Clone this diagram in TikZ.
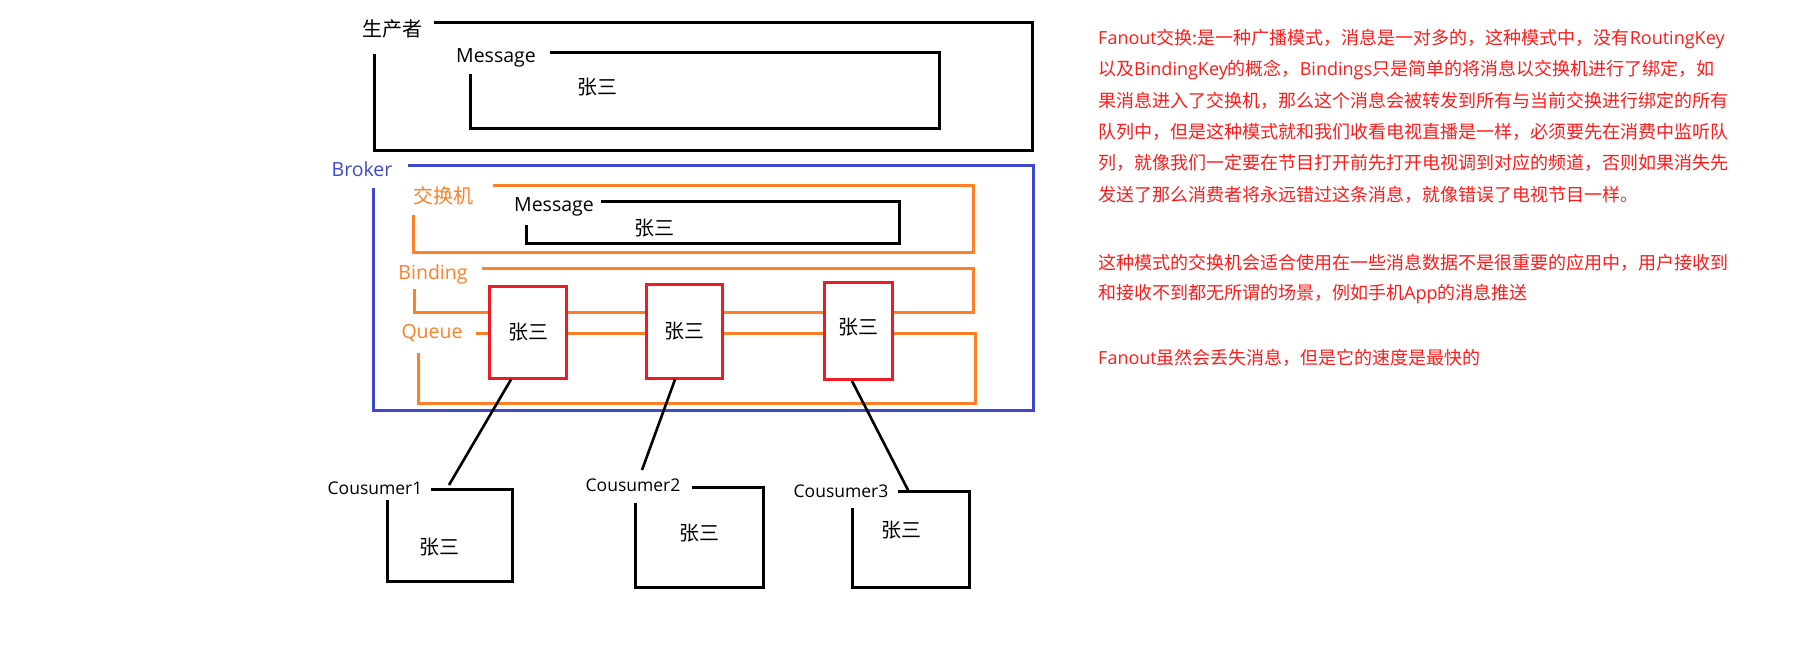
\documentclass[tikz,border=0pt]{standalone}
\usepackage{fontspec}
\setmainfont{Open Sans}
\newfontfamily\zh{Noto Sans CJK SC}
\usetikzlibrary{positioning}
\definecolor{brkdraw}{HTML}{3F48CC}
\definecolor{exdraw}{HTML}{FF7F27}
\definecolor{qdraw}{HTML}{ED1C24}
\definecolor{notetext}{HTML}{FF1A1A}
\newcommand\lat[1]{{\rmfamily #1}}
\tikzset{
  frame/.style={line width=3pt, draw=black},
  brk/.style={line width=3pt, draw=brkdraw},
  orng/.style={line width=3pt, draw=exdraw},
  qbox/.style={rectangle, draw=qdraw, line width=3pt, fill=white, inner sep=0pt, font=\zh\fontsize{20}{24}\selectfont},
  lab/.style={font=\fontsize{19.5}{23}\selectfont, inner sep=0pt},
  zhlab/.style={font=\zh\fontsize{20}{24}\selectfont, inner sep=0pt},
  clab/.style={font=\fontsize{17.5}{21}\selectfont, inner sep=0pt},
  note/.style={font=\zh\fontsize{18}{22}\selectfont, text=notetext, anchor=west, inner sep=0pt},
  link/.style={line width=2.6pt, draw=black},
}
\begin{document}
\begin{tikzpicture}[x=1pt, y=-1pt]
  \useasboundingbox (0,0) rectangle (1799,648);
  % producer
  \node[zhlab] (prod) at (392,29) {生产者};
  \draw[frame] (374,54) -- (374,150) -- (1032,150) -- (1032,22) -- (434,22);
  \node[lab] (pmsg) at (496,58) {Message};
  \draw[frame] (470,74) -- (470,128) -- (939,128) -- (939,52) -- (550,52);
  \node[zhlab] (pval) at (597,87) {张三};
  % broker
  \node[lab, text=brkdraw] (brk) at (362,169) {Broker};
  \draw[brk] (373,188) -- (373,410) -- (1033,410) -- (1033,165) -- (408,165);
  \node[zhlab, text=exdraw] (ex) at (443,196) {交换机};
  \draw[orng] (413,215) -- (413,252) -- (973,252) -- (973,185) -- (493,185);
  \node[lab] (xmsg) at (554,207) {Message};
  \draw[frame] (526,225) -- (526,243) -- (899,243) -- (899,201) -- (601,201);
  \node[zhlab] (xval) at (654,228) {张三};
  \node[lab, text=exdraw] (bind) at (433,274) {Binding};
  \draw[orng] (414,289) -- (414,312) -- (973,312) -- (973,268) -- (482,268);
  \node[lab, text=exdraw] (queue) at (432,333) {Queue};
  \draw[orng] (418,353) -- (418,403) -- (975,403) -- (975,333) -- (476,333);
  % queues
  \node[qbox, minimum width=77pt, minimum height=92pt] (q1) at (528,332) {张三};
  \node[qbox, minimum width=76pt, minimum height=94pt] (q2) at (684,331) {\raisebox{2pt}{张三}};
  \node[qbox, minimum width=68pt, minimum height=97pt] (q3) at (858,331) {\raisebox{9pt}{张三}};
  % consumers
  \node[clab] (cs1) at (375,488) {Cousumer1};
  \draw[frame] (387,500) -- (387,581) -- (512,581) -- (512,489) -- (431,489);
  \node[zhlab] (cv1) at (439,547) {张三};
  \node[clab] (cs2) at (633,485) {Cousumer2};
  \draw[frame] (635,503) -- (635,587) -- (763,587) -- (763,487) -- (692,487);
  \node[zhlab] (cv2) at (699,533) {张三};
  \node[clab] (cs3) at (841,491) {Cousumer3};
  \draw[frame] (852,508) -- (852,587) -- (969,587) -- (969,491) -- (898,491);
  \node[zhlab] (cv3) at (901,530) {张三};
  \coordinate (c1) at (449,485);
  \coordinate (c2) at (642,470);
  \coordinate (c3) at (909,492);
  \draw[link] ([xshift=-17pt]q1.south) -- (c1);
  \draw[link] ([xshift=-9pt]q2.south) -- (c2);
  \draw[link] ([xshift=-6pt]q3.south) -- (c3);
  % notes
  \foreach \y/\t [count=\i] in {
    39/{\lat{Fanout}交换:是一种广播模式，消息是一对多的，这种模式中，没有\lat{RoutingKey}},
    70/{以及\lat{BindingKey}的概念，\lat{Bindings}只是简单的将消息以交换机进行了绑定，如},
    101/{果消息进入了交换机，那么这个消息会被转发到所有与当前交换进行绑定的所有},
    132/{队列中，但是这种模式就和我们收看电视直播是一样，必须要先在消费中监听队},
    163/{列，就像我们一定要在节目打开前先打开电视调到对应的频道，否则如果消失先},
    195/{发送了那么消费者将永远错过这条消息，就像错误了电视节目一样。},
    263/{这种模式的交换机会适合使用在一些消息数据不是很重要的应用中，用户接收到},
    294/{和接收不到都无所谓的场景，例如手机\lat{App}的消息推送},
    358/{\lat{Fanout}虽然会丢失消息，但是它的速度是最快的}}
    \node[note] (note\i) at (1098,\y) {\t};
\end{tikzpicture}
\end{document}
